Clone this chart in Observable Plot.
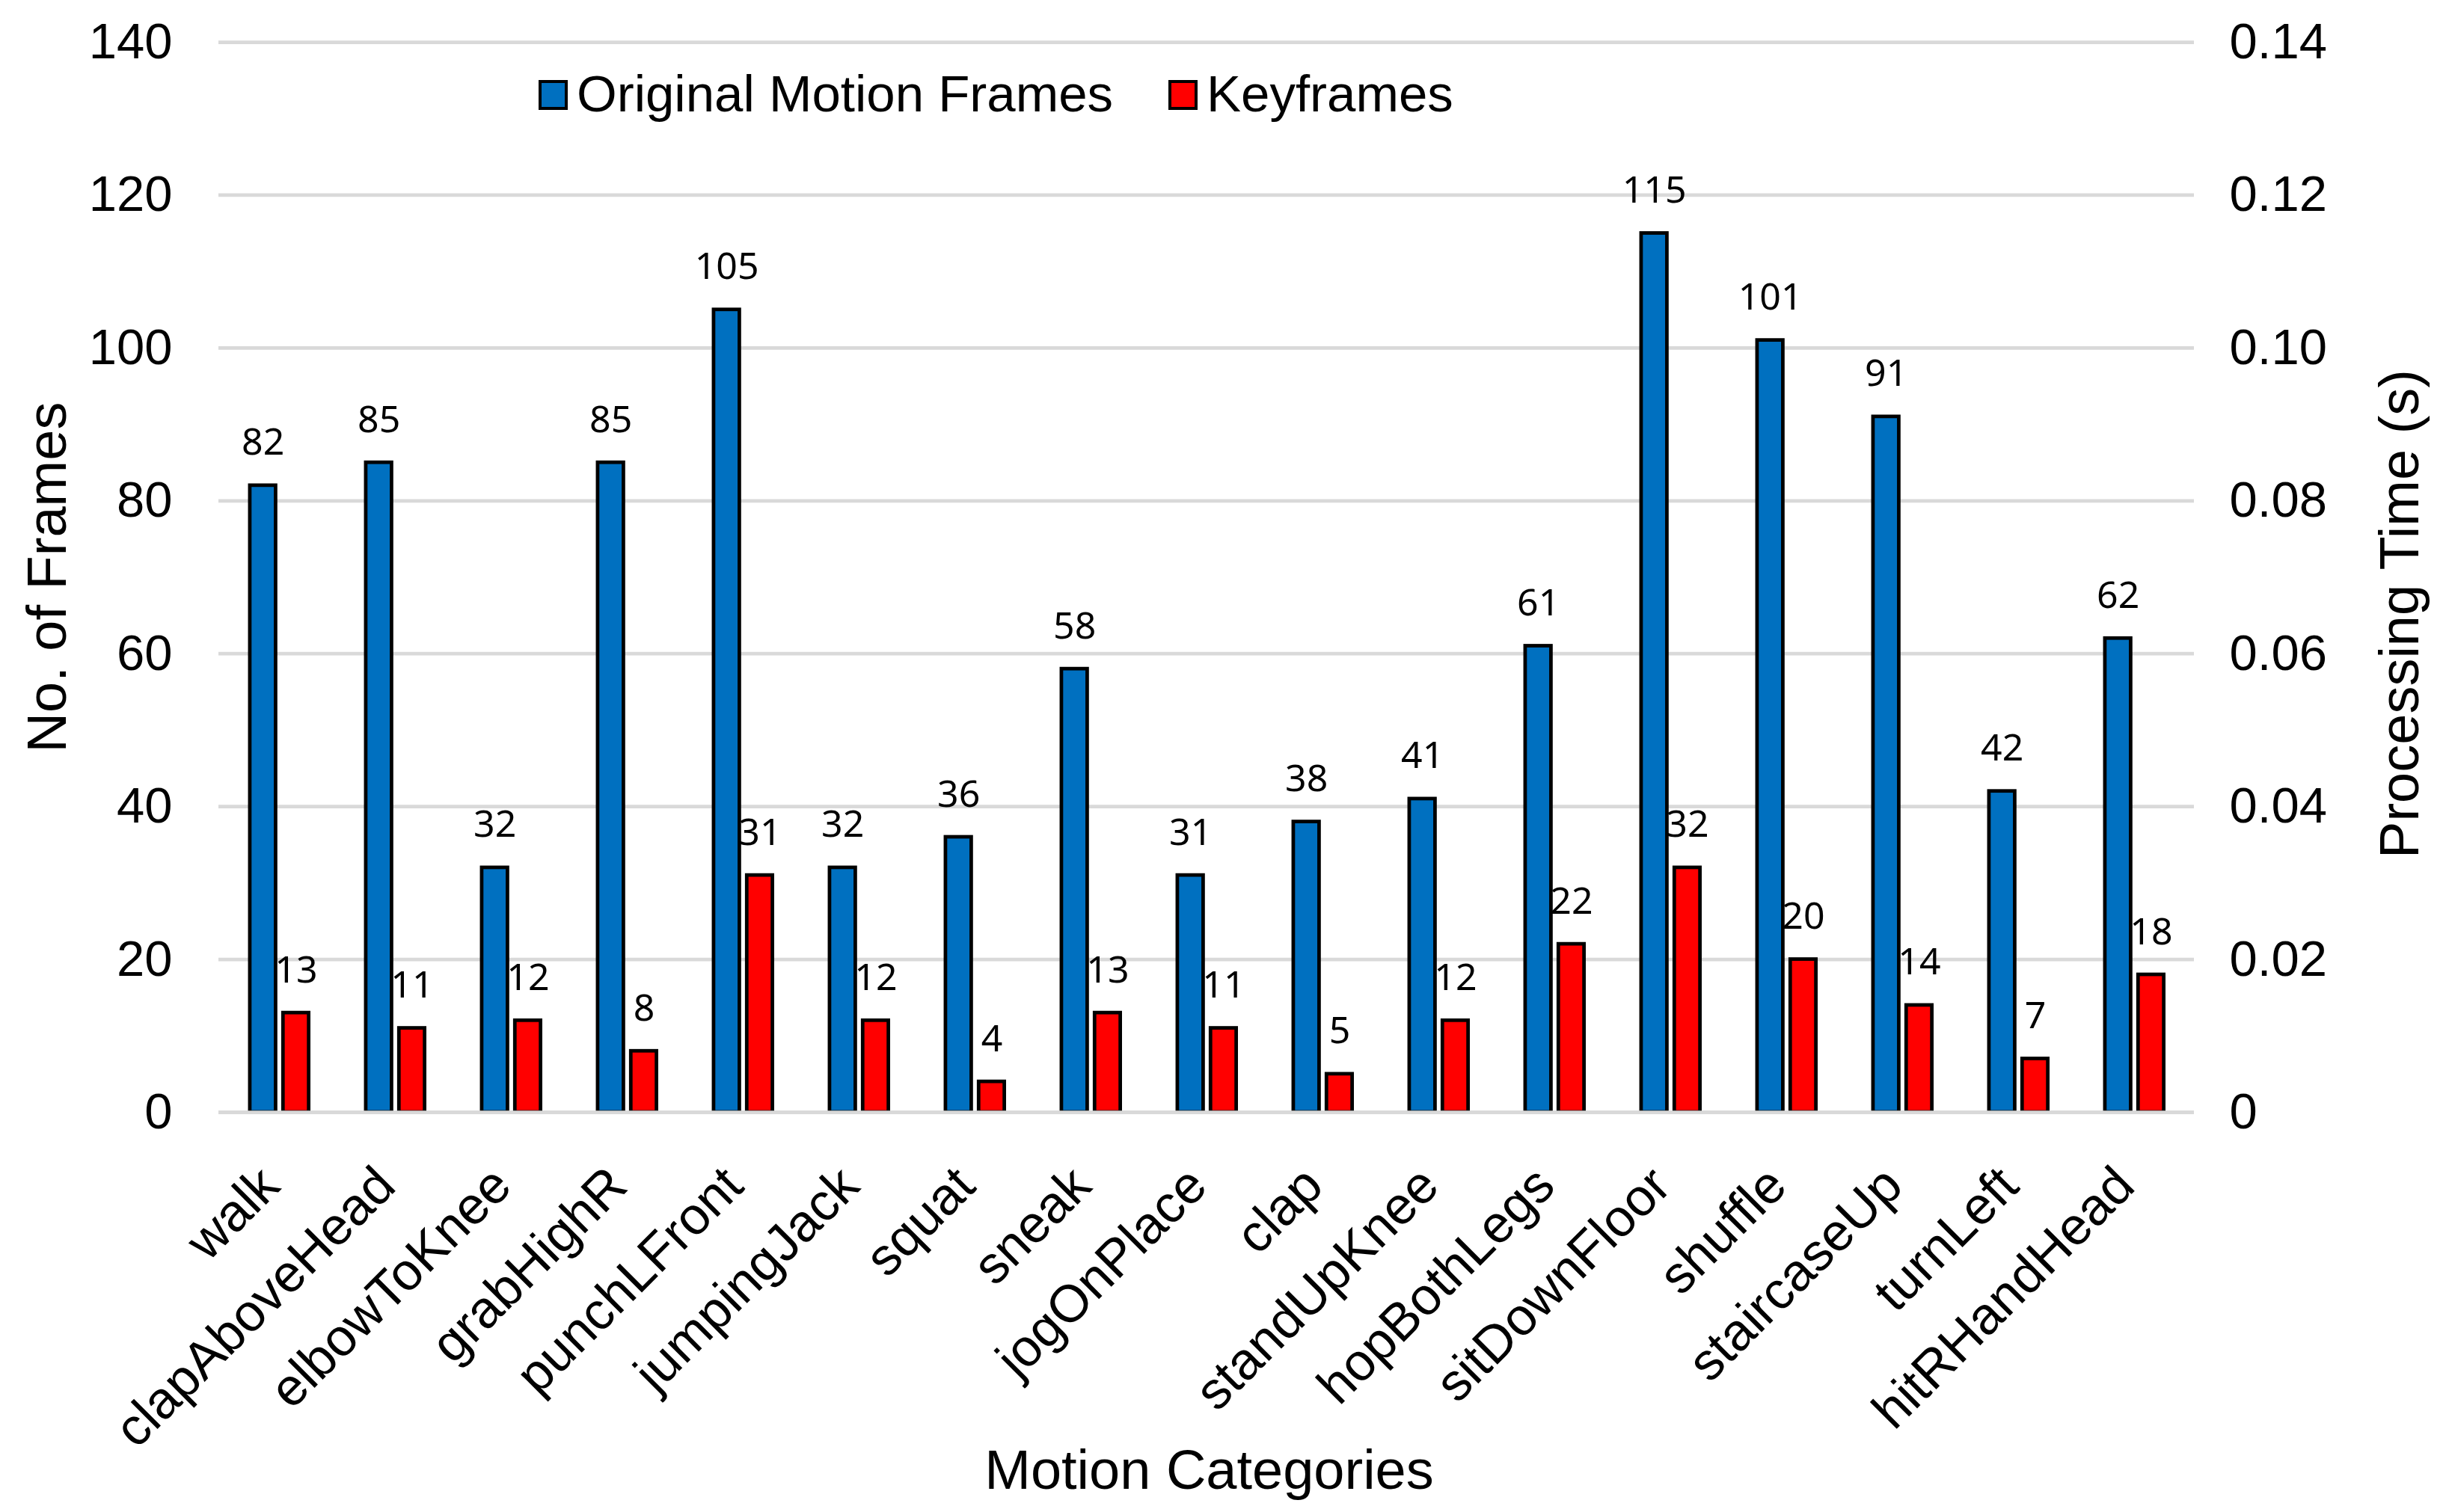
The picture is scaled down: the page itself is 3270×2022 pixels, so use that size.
<!DOCTYPE html>
<html><head><meta charset="utf-8">
<script src="https://cdn.jsdelivr.net/npm/d3@7"></script>
<script src="https://cdn.jsdelivr.net/npm/@observablehq/plot@0.6"></script>
<style>
html,body{margin:0;padding:0;background:#fff;}
#wrap{position:relative;width:3270px;height:2022px;overflow:hidden;}
#legend{position:absolute;left:0;top:0;width:0;height:0;font-family:"Liberation Sans",Arial,sans-serif;font-size:69px;color:#000;}
.sw{position:absolute;box-sizing:border-box;width:39px;height:40px;border:4.75px solid #000;}
.lt{position:absolute;line-height:1;white-space:nowrap;}
</style></head><body><div id="wrap"><div id="chart"></div><div id="legend"></div></div>
<script>
// ---- data ----
const categories = ["walk","clapAboveHead","elbowToKnee","grabHighR","punchLFront","jumpingJack","squat","sneak","jogOnPlace","clap","standUpKnee","hopBothLegs","sitDownFloor","shuffle","staircaseUp","turnLeft","hitRHandHead"];
const originalFrames = [82,85,32,85,105,32,36,58,31,38,41,61,115,101,91,42,62];
const keyframes = [13,11,12,8,31,12,4,13,11,5,12,22,32,20,14,7,18];
const seriesNames = ["Original Motion Frames","Keyframes"];
const seriesColors = ["#0070C0","#FF0000"];
const leftTicks = [0,20,40,60,80,100,120,140];
const rightTickLabels = ["0","0.02","0.04","0.06","0.08","0.10","0.12","0.14"];
const yTitle = "No. of Frames";
const y2Title = "Processing Time (s)";
const xTitle = "Motion Categories";

// ---- layout ----
const W = 3270, H = 2022, ML = 292, MR = 337, MT = 56, MB = 535;
const band = (W - ML - MR) / categories.length;
const font = "'Liberation Sans', Arial, sans-serif";
const stroke = 4.75;

const blueInsetL = band/2 - 38.75, blueInsetR = band/2 + 3.9;
const redInsetL = band/2 + 5.6, redInsetR = band/2 - 40.3;
const blueMid = -(38.75 + 3.9)/2, redMid = (5.6 + 40.3)/2;

const chart = Plot.plot({
  width: W, height: H,
  marginLeft: ML, marginRight: MR, marginTop: MT, marginBottom: MB,
  style: {fontFamily: font, background: "#fff", color: "#000", overflow: "visible"},
  x: {type: "band", domain: categories, padding: 0, axis: null},
  y: {domain: [0, 140], axis: null},
  marks: [
    Plot.gridY(leftTicks, {stroke: "#d9d9d9", strokeOpacity: 1, strokeWidth: stroke}),
    Plot.barY(categories, {x: d => d, y: (d, i) => originalFrames[i], fill: seriesColors[0], stroke: "#000", strokeWidth: stroke, insetLeft: blueInsetL, insetRight: blueInsetR}),
    Plot.barY(categories, {x: d => d, y: (d, i) => keyframes[i], fill: seriesColors[1], stroke: "#000", strokeWidth: stroke, insetLeft: redInsetL, insetRight: redInsetR}),
    Plot.ruleY([0], {stroke: "#d9d9d9", strokeWidth: stroke}),
    Plot.text(categories, {x: d => d, y: (d, i) => originalFrames[i], text: (d, i) => String(originalFrames[i]), dx: blueMid, dy: -41, lineAnchor: "bottom", fontFamily: "'Noto Sans', sans-serif", fontSize: 50, fill: "#000"}),
    Plot.text(categories, {x: d => d, y: (d, i) => keyframes[i], text: (d, i) => String(keyframes[i]), dx: redMid, dy: -41, lineAnchor: "bottom", fontFamily: "'Noto Sans', sans-serif", fontSize: 50, fill: "#000"}),
    Plot.axisY({anchor: "left", ticks: leftTicks, tickSize: 0, tickPadding: 62, fontSize: 67, label: null}),
    Plot.axisY({anchor: "right", ticks: leftTicks, tickFormat: d => rightTickLabels[leftTicks.indexOf(d)], tickSize: 0, tickPadding: 47, fontSize: 67, label: null}),
    Plot.text(categories, {x: d => d, text: d => d, frameAnchor: "bottom", rotate: -45, textAnchor: "end", lineAnchor: "bottom", dx: 4, dy: 102, fontSize: 70, fill: "#000"}),
    Plot.text([yTitle], {text: d => d, frameAnchor: "left", rotate: -90, textAnchor: "middle", lineAnchor: "bottom", dx: -205, fontSize: 74, fill: "#000"}),
    Plot.text([y2Title], {text: d => d, frameAnchor: "right", rotate: -90, textAnchor: "middle", lineAnchor: "bottom", dx: 299, dy: 49, fontSize: 74, fill: "#000"}),
    Plot.text([xTitle], {text: d => d, frameAnchor: "bottom", textAnchor: "middle", lineAnchor: "bottom", dx: 3.5, dy: 503, fontSize: 74, fill: "#000"})
  ]
});
document.getElementById("chart").appendChild(chart);

// ---- legend (overlaid inside plot area, top) ----
const legend = document.getElementById("legend");
const legendItems = [
  {name: seriesNames[0], color: seriesColors[0], swLeft: 720, textLeft: 771},
  {name: seriesNames[1], color: seriesColors[1], swLeft: 1562, textLeft: 1613}
];
legendItems.forEach(it => {
  const sw = document.createElement("div");
  sw.className = "sw";
  sw.style.left = it.swLeft + "px";
  sw.style.top = "107px";
  sw.style.background = it.color;
  legend.appendChild(sw);
  const t = document.createElement("div");
  t.className = "lt";
  t.style.left = it.textLeft + "px";
  t.style.top = "90.5px";
  t.textContent = it.name;
  legend.appendChild(t);
});
</script></body></html>
